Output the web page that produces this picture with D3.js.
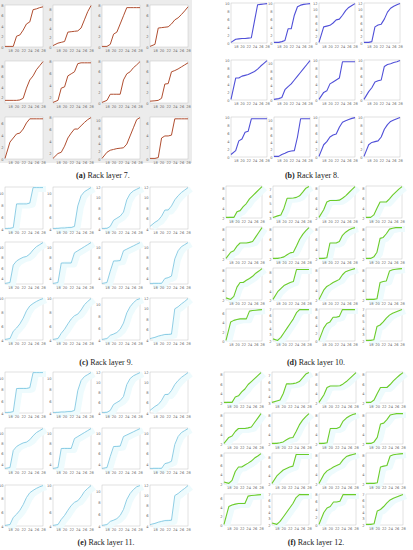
<!DOCTYPE html>
<html>
<head>
<meta charset="utf-8">
<script src="https://cdn.jsdelivr.net/npm/d3@7"></script>
<style>
  body { margin: 0; background: #fff; }
  svg { display: block; }
  .tk text { font-family: "DejaVu Sans", sans-serif; font-size: 3.6px; fill: #666; }
  .tk line { stroke: #999; stroke-width: 0.4; }
  .cap { font-family: "Liberation Serif", serif; font-size: 8px; fill: #222; }
</style>
</head>
<body>
<script>
// hours of the day (x) shared by every small plot
const hours = [16.5, 18, 19, 20, 21, 22, 23, 24, 25, 26, 27, 28];
const xTicks = [18, 20, 22, 24, 26, 28];

// cumulative share of the day's charge, one row per small plot
const layer7 = [
  [0, 0, 0, 0.25, 0.28, 0.4, 0.55, 0.6, 0.9, 0.92, 0.95, 0.97],
  [0.02, 0.08, 0.1, 0.12, 0.35, 0.36, 0.37, 0.38, 0.45, 0.65, 0.85, 1.0],
  [0, 0, 0.05, 0.3, 0.35, 0.55, 0.75, 0.95, 0.95, 0.95, 0.95, 0.95],
  [0, 0.05, 0.45, 0.46, 0.47, 0.48, 0.55, 0.65, 0.7, 0.78, 0.87, 0.97],
  [0.05, 0.05, 0.05, 0.05, 0.06, 0.1, 0.35, 0.55, 0.65, 0.8, 0.9, 1.0],
  [0, 0.05, 0.35, 0.38, 0.65, 0.7, 0.75, 0.95, 0.97, 0.97, 0.97, 0.97],
  [0, 0.05, 0.2, 0.2, 0.2, 0.2, 0.55, 0.7, 0.75, 0.85, 0.92, 1.0],
  [0.03, 0.04, 0.05, 0.1, 0.45, 0.46, 0.75, 0.78, 0.82, 0.87, 0.92, 0.97],
  [0, 0.4, 0.5, 0.6, 0.62, 0.72, 0.87, 0.97, 0.97, 0.97, 0.97, 0.97],
  [0, 0.12, 0.15, 0.3, 0.5, 0.62, 0.72, 0.72, 0.8, 0.88, 0.95, 1.0],
  [0, 0.15, 0.2, 0.22, 0.24, 0.25, 0.26, 0.35, 0.55, 0.75, 0.95, 1.0],
  [0, 0, 0.02, 0.5, 0.55, 0.55, 0.57, 0.97, 0.97, 0.97, 0.97, 0.97]
];
const layer8 = [
  [0, 0.08, 0.09, 0.1, 0.1, 0.11, 0.12, 0.55, 0.97, 0.98, 0.99, 1.0],
  [0, 0, 0.02, 0.05, 0.35, 0.35, 0.7, 0.92, 0.96, 0.98, 0.99, 1.0],
  [0, 0.4, 0.42, 0.44, 0.5, 0.58, 0.6, 0.7, 0.82, 0.9, 0.95, 1.0],
  [0, 0, 0.02, 0.4, 0.45, 0.47, 0.6, 0.78, 0.88, 0.93, 0.97, 1.0],
  [0, 0.55, 0.55, 0.6, 0.62, 0.64, 0.68, 0.72, 0.78, 0.86, 0.93, 1.0],
  [0, 0.02, 0.05, 0.25, 0.33, 0.4, 0.5, 0.6, 0.7, 0.8, 0.9, 1.0],
  [0, 0.18, 0.22, 0.4, 0.45, 0.5, 0.55, 0.97, 0.97, 0.97, 0.97, 0.97],
  [0, 0.2, 0.3, 0.45, 0.48, 0.5, 0.85, 0.9, 0.92, 0.95, 0.97, 1.0],
  [0.05, 0.15, 0.4, 0.45, 0.62, 0.65, 0.97, 0.97, 0.97, 0.97, 0.97, 0.97],
  [0, 0, 0.05, 0.08, 0.12, 0.14, 0.15, 0.5, 0.97, 0.97, 0.97, 0.97],
  [0, 0.3, 0.38, 0.5, 0.55, 0.58, 0.75, 0.88, 0.92, 0.95, 0.98, 1.0],
  [0, 0.3, 0.36, 0.38, 0.4, 0.5, 0.7, 0.82, 0.9, 0.94, 0.97, 1.0]
];
const layer9 = [
  [0, 0, 0.02, 0.6, 0.6, 0.6, 0.6, 0.62, 1.0, 1.0, 1.0, 1.0],
  [0, 0, 0.01, 0.01, 0.02, 0.02, 0.05, 0.55, 0.8, 0.9, 0.95, 1.0],
  [0, 0, 0.05, 0.2, 0.25, 0.3, 0.4, 0.7, 0.85, 0.92, 0.96, 1.0],
  [0.05, 0.15, 0.2, 0.3, 0.45, 0.45, 0.55, 0.7, 0.8, 0.88, 0.94, 1.0],
  [0, 0.02, 0.45, 0.55, 0.6, 0.64, 0.66, 0.72, 0.82, 0.9, 0.95, 1.0],
  [0, 0.02, 0.5, 0.5, 0.5, 0.5, 0.75, 0.8, 0.85, 0.9, 0.95, 1.0],
  [0, 0.02, 0.3, 0.55, 0.55, 0.56, 0.8, 0.84, 0.88, 0.92, 0.96, 1.0],
  [0, 0, 0, 0, 0.12, 0.14, 0.18, 0.6, 0.8, 0.9, 0.95, 1.0],
  [0, 0.02, 0.2, 0.28, 0.38, 0.52, 0.7, 0.82, 0.88, 0.93, 0.97, 1.0],
  [0, 0.02, 0.15, 0.25, 0.38, 0.5, 0.58, 0.62, 0.72, 0.85, 0.93, 1.0],
  [0, 0.02, 0.1, 0.13, 0.17, 0.25, 0.4, 0.65, 0.8, 0.9, 0.97, 1.0],
  [0.02, 0.05, 0.08, 0.1, 0.12, 0.12, 0.13, 0.75, 0.8, 0.87, 0.93, 1.0]
];
const layer10 = [
  [0, 0, 0, 0.18, 0.22, 0.35, 0.45, 0.6, 0.7, 0.8, 0.9, 1.0],
  [0, 0.05, 0.08, 0.3, 0.62, 0.62, 0.63, 0.65, 0.7, 0.82, 0.95, 1.0],
  [0, 0.25, 0.5, 0.55, 0.55, 0.55, 0.56, 0.62, 0.7, 0.8, 0.9, 1.0],
  [0, 0, 0.08, 0.3, 0.5, 0.5, 0.5, 0.6, 0.72, 0.82, 0.92, 1.0],
  [0, 0.2, 0.25, 0.4, 0.5, 0.5, 0.5, 0.52, 0.55, 0.7, 0.85, 1.0],
  [0, 0, 0.02, 0.05, 0.12, 0.18, 0.2, 0.4, 0.62, 0.78, 0.9, 1.0],
  [0, 0, 0.02, 0.5, 0.5, 0.5, 0.55, 0.75, 0.85, 0.92, 0.97, 1.0],
  [0, 0, 0.05, 0.2, 0.65, 0.68, 0.8, 0.95, 0.98, 1.0, 1.0, 1.0],
  [0.05, 0, 0.1, 0.4, 0.55, 0.55, 0.62, 0.68, 0.75, 0.85, 0.92, 1.0],
  [0, 0.25, 0.35, 0.45, 0.5, 0.55, 0.58, 0.97, 0.97, 0.97, 0.97, 0.97],
  [0, 0.3, 0.42, 0.48, 0.55, 0.6, 0.65, 0.8, 0.9, 0.94, 0.97, 1.0],
  [0, 0, 0, 0.02, 0.55, 0.58, 0.6, 0.92, 0.96, 0.98, 0.99, 1.0],
  [0, 0.6, 0.65, 0.68, 0.7, 0.7, 0.7, 0.95, 0.97, 0.98, 0.99, 1.0],
  [0.05, 0, 0.1, 0.25, 0.4, 0.55, 0.7, 0.9, 1.0, 1.0, 1.0, 1.0],
  [0, 0.4, 0.55, 0.6, 0.75, 0.75, 0.78, 1.0, 1.0, 1.0, 1.0, 1.0],
  [0, 0, 0.02, 0.45, 0.5, 0.6, 0.72, 0.82, 0.88, 0.92, 0.96, 1.0]
];
// layers 11 and 12 repeat the profiles of layers 9 and 10
const layer11 = layer9;
const layer12 = layer10;

// y axis range (units) of each small plot
const yDom7 = [[0,8],[0,9],[0,8],[0,8],[1,9],[1,8],[0,8],[0,8],[0,7],[1,8],[0,11],[0,7]];
const yDom8 = [[0,10],[0,10],[0,12],[0,12],[0,10],[0,11],[0,10],[0,10],[0,10],[0,11],[0,10],[0,10]];
const yDom9 = [[4,11],[4,11],[4,12],[4,12],[3,11],[3,11],[3,11],[3,11],[4,10],[4,10],[4,11],[4,12]];
const yDom10 = [[2,8.5],[3,7.5],[2,8.5],[2,8.5],[2,8.5],[2,8.5],[2,8.5],[2,8.5],[2,8.5],[2,9],[2,8.5],[2,8.5],[0,7],[2,7],[0,8],[2,7]];

const svg = d3.select('body').append('svg').attr('width', 413).attr('height', 550);

// light grey backdrop of panel (a)
svg.append('rect').attr('x', 0).attr('y', 0).attr('width', 192).attr('height', 163).attr('fill', '#ececec');

function draw_panel(cfg) {
  cfg.data.forEach((vals, i) => {
    var c = i % cfg.xs.length, r = Math.floor(i / cfg.xs.length);
    var g = svg.append('g').attr('transform', 'translate(' + cfg.xs[c] + ',' + cfg.ys[r] + ')');
    var x = d3.scaleLinear().domain([16.5, 28]).range([0, cfg.w]);
    var yAx = d3.scaleLinear().domain(cfg.ydom[i]).range([cfg.h, 0]);
    var y = d3.scaleLinear().domain([0, 1]).range([cfg.h - 0.6, 0.6]);

    g.append('rect').attr('width', cfg.w).attr('height', cfg.h)
      .attr('fill', '#fff').attr('stroke', '#c4c4c4').attr('stroke-width', 0.5);

    var pts = vals.map((v, k) => [hours[k], v]);
    var line = d3.line().x(d => x(d[0])).y(d => y(d[1]));

    if (cfg.shadow) {
      // faint cyan ghost that sits behind the curves in the scan
      g.append('path').datum(pts).attr('d', line)
        .attr('transform', 'translate(3,1.5)')
        .attr('fill', 'none').attr('stroke', '#eefbfd').attr('stroke-width', 6)
        .attr('stroke-linejoin', 'round');
    }
    g.append('path').datum(pts).attr('d', line)
      .attr('fill', 'none').attr('stroke', cfg.color).attr('stroke-width', cfg.lw)
      .attr('stroke-linejoin', 'round');

    g.append('g').attr('class', 'tk').attr('transform', 'translate(0,' + cfg.h + ')')
      .call(d3.axisBottom(x).tickValues(xTicks).tickSize(0).tickPadding(2.5))
      .call(s => s.select('.domain').remove());
    g.append('g').attr('class', 'tk')
      .call(d3.axisLeft(yAx).ticks(4).tickSize(0).tickPadding(1.5))
      .call(s => s.select('.domain').remove());
  });

  var t = svg.append('text').attr('class', 'cap').attr('x', cfg.capX).attr('y', cfg.capY)
    .attr('text-anchor', 'middle');
  t.append('tspan').attr('font-weight', 'bold').text(cfg.tag);
  t.append('tspan').text(' Rack layer ' + cfg.layer + '.');
}

draw_panel({data: layer7, ydom: yDom7, color: '#b04e30', lw: 1.0, shadow: false,
  xs: [5, 53, 102, 150], ys: [5, 61, 117], w: 38, h: 42,
  tag: '(a)', layer: 7, capX: 103, capY: 178});
draw_panel({data: layer8, ydom: yDom8, color: '#5050d8', lw: 1.1, shadow: false,
  xs: [231, 274, 319, 364], ys: [3, 60, 117], w: 36, h: 40,
  tag: '(b)', layer: 8, capX: 312, capY: 178});
draw_panel({data: layer9, ydom: yDom9, color: '#74c2de', lw: 0.8, shadow: true,
  xs: [5, 53, 102, 150], ys: [187, 242, 298], w: 38, h: 42,
  tag: '(c)', layer: 9, capX: 106, capY: 365});
draw_panel({data: layer10, ydom: yDom10, color: '#6ccc2a', lw: 1.1, shadow: true,
  xs: [226, 273, 319, 366], ys: [186, 227, 268, 309], w: 36, h: 32,
  tag: '(d)', layer: 10, capX: 316, capY: 365});
draw_panel({data: layer11, ydom: yDom9, color: '#74c2de', lw: 0.8, shadow: true,
  xs: [5, 53, 102, 150], ys: [372, 428, 485], w: 38, h: 41,
  tag: '(e)', layer: 11, capX: 106, capY: 545});
draw_panel({data: layer12, ydom: yDom10, color: '#6ccc2a', lw: 1.1, shadow: true,
  xs: [224, 272, 319, 366], ys: [372, 413, 453, 494], w: 37, h: 31,
  tag: '(f)', layer: 12, capX: 316, capY: 545});
</script>
</body>
</html>
